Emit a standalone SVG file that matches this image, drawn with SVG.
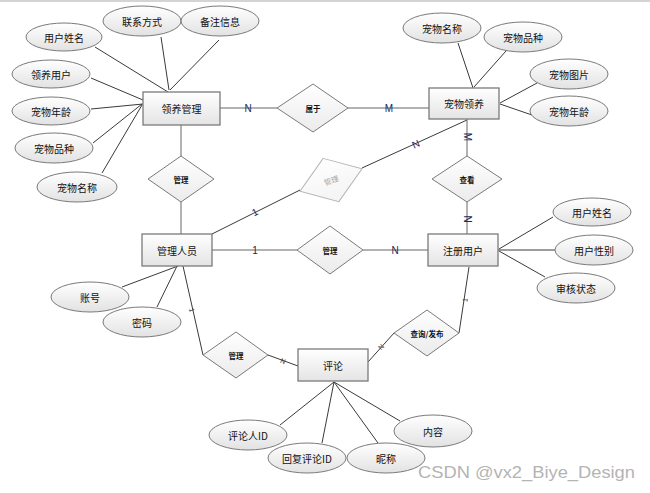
<svg xmlns="http://www.w3.org/2000/svg" width="650" height="493" viewBox="0 0 650 493">
<defs>
<linearGradient id="gR" x1="0" y1="0" x2="0" y2="1"><stop offset="0" stop-color="#ffffff"/><stop offset="1" stop-color="#e4e4e4"/></linearGradient>
<linearGradient id="gE" x1="0" y1="0" x2="0" y2="1"><stop offset="0" stop-color="#ffffff"/><stop offset="1" stop-color="#e2e2e2"/></linearGradient>
<linearGradient id="gD" x1="0" y1="0" x2="0" y2="1"><stop offset="0" stop-color="#ffffff"/><stop offset="1" stop-color="#ebebeb"/></linearGradient>
<style>
.ent rect{fill:url(#gR);stroke:#7a7a7a;stroke-width:1.3}
.att ellipse{fill:url(#gE);stroke:#7a7a7a;stroke-width:1}
.rel polygon{fill:url(#gD);stroke:#7a7a7a;stroke-width:1}
text{font-family:"Noto Sans CJK SC","Liberation Sans",sans-serif;fill:#111}
.t{font-size:10px;text-anchor:middle;dominant-baseline:central}
.d{font-size:7.5px;font-weight:bold;text-anchor:middle;dominant-baseline:central}
.lbl{font-family:"Liberation Sans",sans-serif;font-size:10px;fill:#1c2a55;text-anchor:middle;dominant-baseline:central}
.sl{font-family:"Liberation Sans",sans-serif;font-size:7px;fill:#333;text-anchor:middle;dominant-baseline:central}
#links line{stroke:#3a3a3a;stroke-width:1}
#links .g{stroke:#666}
</style>
</defs>
<rect x="0" y="0" width="650" height="493" fill="#ffffff"/>
<rect x="0" y="0" width="650" height="2" fill="#d4d4d4"/>

<g id="links">
<!-- 领养管理 attributes -->
<line x1="95" y1="47" x2="168" y2="92"/>
<line x1="161" y1="37" x2="169" y2="90"/>
<line x1="219" y1="40" x2="170" y2="90"/>
<line x1="91" y1="78" x2="143" y2="100"/>
<line x1="91" y1="109" x2="143" y2="104"/>
<line x1="93" y1="143" x2="142" y2="104"/>
<line x1="102" y1="173" x2="142" y2="105"/>
<!-- 宠物领养 attributes -->
<line x1="458" y1="43" x2="473" y2="88"/>
<line x1="506" y1="51" x2="474" y2="87"/>
<line x1="537" y1="83" x2="500" y2="103"/>
<line x1="532" y1="115" x2="500" y2="104"/>
<!-- 注册用户 attributes -->
<line x1="553" y1="217" x2="499" y2="249"/>
<line x1="555" y1="250" x2="498" y2="250"/>
<line x1="545" y1="277" x2="499" y2="251"/>
<!-- 管理人员 attributes -->
<line x1="122" y1="287" x2="178" y2="266"/>
<line x1="157" y1="307" x2="177" y2="266"/>
<!-- 评论 attributes -->
<line x1="280" y1="425" x2="334" y2="382"/>
<line x1="322" y1="443" x2="334" y2="382"/>
<line x1="378" y1="443" x2="334" y2="382"/>
<line x1="400" y1="421" x2="334" y2="382"/>
<!-- relations -->
<line class="g" x1="220" y1="108" x2="277" y2="108"/>
<line class="g" x1="348" y1="108" x2="429" y2="108"/>
<line class="g" x1="181" y1="125" x2="181" y2="156"/>
<line class="g" x1="181" y1="202" x2="181" y2="234"/>
<line x1="212" y1="234" x2="300" y2="190"/>
<line x1="362" y1="168" x2="467" y2="120"/>
<line class="g" x1="467" y1="119" x2="467" y2="156"/>
<line class="g" x1="467" y1="202" x2="467" y2="234"/>
<line class="g" x1="212" y1="250" x2="297" y2="250"/>
<line class="g" x1="363" y1="250" x2="428" y2="250"/>
<line x1="469" y1="267" x2="459" y2="333"/>
<line x1="394" y1="333" x2="368" y2="362"/>
<line x1="268" y1="355" x2="298" y2="366"/>
<line x1="183" y1="266" x2="203" y2="355"/>
</g>

<g id="labels">
<text class="lbl" x="248" y="108">N</text>
<text class="lbl" x="389" y="108">M</text>
<text class="lbl" x="255" y="212" transform="rotate(-27 255 212)">1</text>
<text class="lbl" x="416" y="144" transform="rotate(-24 416 144)">N</text>
<text class="lbl" x="467" y="137" transform="rotate(90 467 137)">M</text>
<text class="lbl" x="467" y="219" transform="rotate(90 467 219)">N</text>
<text class="lbl" x="255" y="250">1</text>
<text class="lbl" x="395" y="250">N</text>
<text class="sl" x="465" y="300" transform="rotate(-81 465 300)">1</text>
<text class="sl" x="381" y="347" transform="rotate(-48 381 347)">N</text>
<text class="sl" x="283" y="361" transform="rotate(20 283 361)">N</text>
<text class="sl" x="192" y="310" transform="rotate(77 192 310)">1</text>
</g>

<g id="lyg" class="ent"><rect x="143" y="92" width="77" height="33"/><text class="t" x="181.5" y="108.5">领养管理</text></g>
<g id="cwly" class="ent"><rect x="429" y="88" width="70" height="31"/><text class="t" x="464" y="103.5">宠物领养</text></g>
<g id="glry" class="ent"><rect x="142" y="234" width="70" height="32"/><text class="t" x="177" y="250">管理人员</text></g>
<g id="zcyh" class="ent"><rect x="428" y="234" width="70" height="32"/><text class="t" x="463" y="250">注册用户</text></g>
<g id="pl" class="ent"><rect x="298" y="349" width="70" height="32"/><text class="t" x="333" y="365">评论</text></g>

<g id="rel-gl1" class="rel"><polygon points="181,156 214,179 181,202 148,179"/><text class="d" x="181" y="179">管理</text></g>
<g id="rel-sy" class="rel"><polygon points="313,84 348,108 313,132 277,108"/><text class="d" x="313" y="108">属于</text></g>
<g id="rel-gl2" class="rel" transform="rotate(-20 331 180)" opacity="0.55"><polygon points="331,157 364,180 331,203 298,180"/><text class="d" x="331" y="180" style="font-weight:normal;fill:#555">管理</text></g>
<g id="rel-ck" class="rel"><polygon points="467,156 502,179 467,202 432,179"/><text class="d" x="467" y="179">查看</text></g>
<g id="rel-gl3" class="rel"><polygon points="330,226 363,250 330,274 297,250"/><text class="d" x="330" y="250">管理</text></g>
<g id="rel-cx" class="rel"><polygon points="427,310 459,333 427,356 394,333"/><text class="d" x="427" y="333">查询/发布</text></g>
<g id="rel-gl4" class="rel"><polygon points="236,332 268,355 236,378 203,355"/><text class="d" x="236" y="355">管理</text></g>

<g id="a-yhxm1" class="att"><ellipse cx="64" cy="37" rx="38" ry="14"/><text class="t" x="64" y="37">用户姓名</text></g>
<g id="a-lxfs" class="att"><ellipse cx="142" cy="21" rx="39" ry="15"/><text class="t" x="142" y="21">联系方式</text></g>
<g id="a-bzxx" class="att"><ellipse cx="220" cy="21" rx="39" ry="15"/><text class="t" x="220" y="21">备注信息</text></g>
<g id="a-lyyh" class="att"><ellipse cx="51" cy="74" rx="39" ry="14"/><text class="t" x="51" y="74">领养用户</text></g>
<g id="a-cwnl1" class="att"><ellipse cx="51" cy="111" rx="39" ry="14"/><text class="t" x="51" y="111">宠物年龄</text></g>
<g id="a-cwpz1" class="att"><ellipse cx="54" cy="148" rx="39" ry="15"/><text class="t" x="54" y="148">宠物品种</text></g>
<g id="a-cwmc1" class="att"><ellipse cx="77" cy="187" rx="40" ry="15"/><text class="t" x="77" y="187">宠物名称</text></g>

<g id="a-cwmc2" class="att"><ellipse cx="442" cy="28" rx="39" ry="15"/><text class="t" x="442" y="28">宠物名称</text></g>
<g id="a-cwpz2" class="att"><ellipse cx="523" cy="37" rx="39" ry="15"/><text class="t" x="523" y="37">宠物品种</text></g>
<g id="a-cwtp" class="att"><ellipse cx="569" cy="74" rx="39" ry="15"/><text class="t" x="569" y="74">宠物图片</text></g>
<g id="a-cwnl2" class="att"><ellipse cx="569" cy="111" rx="39" ry="15"/><text class="t" x="569" y="111">宠物年龄</text></g>

<g id="a-yhxm2" class="att"><ellipse cx="592" cy="212" rx="39" ry="14"/><text class="t" x="592" y="212">用户姓名</text></g>
<g id="a-yhxb" class="att"><ellipse cx="594" cy="250" rx="39" ry="15"/><text class="t" x="594" y="250">用户性别</text></g>
<g id="a-shzt" class="att"><ellipse cx="576" cy="288" rx="39" ry="15"/><text class="t" x="576" y="288">审核状态</text></g>

<g id="a-zh" class="att"><ellipse cx="90" cy="297" rx="39" ry="15"/><text class="t" x="90" y="297">账号</text></g>
<g id="a-mm" class="att"><ellipse cx="142" cy="322" rx="39" ry="15"/><text class="t" x="142" y="322">密码</text></g>

<g id="a-plrid" class="att"><ellipse cx="248" cy="435" rx="39" ry="15"/><text class="t" x="248" y="435">评论人ID</text></g>
<g id="a-hfplid" class="att"><ellipse cx="307" cy="458" rx="39" ry="15"/><text class="t" x="307" y="458">回复评论ID</text></g>
<g id="a-nc" class="att"><ellipse cx="386" cy="458" rx="39" ry="15"/><text class="t" x="386" y="458">昵称</text></g>
<g id="a-nr" class="att"><ellipse cx="433" cy="431" rx="39" ry="16"/><text class="t" x="433" y="431">内容</text></g>

<text x="418" y="478" style="font-family:'Liberation Sans',sans-serif;font-size:17px;fill:#b4b4b4" textLength="217" lengthAdjust="spacingAndGlyphs">CSDN @vx2_Biye_Design</text>
</svg>
